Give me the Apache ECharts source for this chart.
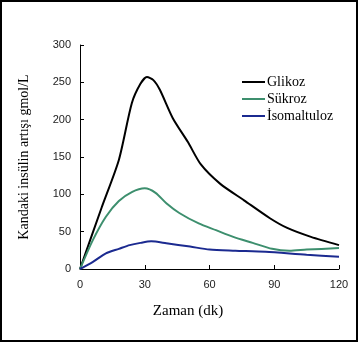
<!DOCTYPE html>
<html><head><meta charset="utf-8">
<script src="https://cdn.jsdelivr.net/npm/echarts@6/dist/echarts.min.js"></script>
<style>html,body{margin:0;padding:0;background:#fff}#c{width:359px;height:344px}</style>
</head><body><div id="c"></div>
<script>
const seriesNames = ['Glikoz', 'Sükroz', 'İsomaltuloz'];
const glikozT = [0, 10, 18, 24, 28, 31, 34, 37, 43, 50, 56, 65, 76, 88, 96, 107, 120];
const glikozV = [0, 82, 146, 222, 248, 257, 253, 240, 202, 170, 140, 114, 92, 68, 55, 43, 32];
const sukrozT = [0, 6, 12, 18, 24, 30, 35, 40, 46, 55, 63, 71, 80, 89, 97, 105, 120];
const sukrozV = [0, 39, 70, 91, 103, 108, 102, 88, 75, 61, 52, 43, 35, 27, 24.5, 26, 28];
const isoT = [0, 6, 12, 18, 23, 28, 33, 40, 51, 60, 72, 86, 105, 120];
const isoV = [0, 9.5, 21, 27, 32, 35, 37, 34.5, 30, 26, 24.5, 23, 19, 16.5];
const xTicks = [0, 30, 60, 90, 120];
const yTicks = [0, 50, 100, 150, 200, 250, 300];
const colors = ['#000000', '#3d8f6e', '#1b2a90'];

const pairs = (t, v) => t.map((x, i) => [x, v[i]]);
const chart = echarts.init(document.getElementById('c'), null, {renderer: 'canvas'});
const serif = 'Liberation Serif';
const sans = 'Liberation Sans';
chart.setOption({
  animation: false,
  backgroundColor: '#fff',
  grid: {left: 80, top: 45, right: 20, bottom: 75},
  legend: {
    orient: 'vertical', left: 237, top: 70,
    itemWidth: 23, itemHeight: 2, itemGap: 3, icon: 'rect',
    data: seriesNames,
    textStyle: {fontFamily: serif, fontSize: 14, color: '#000', lineHeight: 14, padding: [0, 0, 0, -3]}
  },
  xAxis: {
    type: 'value', min: xTicks[0], max: xTicks[xTicks.length - 1], interval: 30,
    name: 'Zaman (dk)', nameLocation: 'middle', nameGap: 35,
    nameTextStyle: {fontFamily: serif, fontSize: 15, color: '#000', padding: [0, 43, 0, 0]},
    axisLine: {lineStyle: {color: '#000', width: 1}},
    axisTick: {inside: true, length: 4, lineStyle: {color: '#000'}},
    axisLabel: {fontFamily: sans, fontSize: 11, color: '#222', margin: 10},
    splitLine: {show: false}
  },
  yAxis: {
    type: 'value', min: yTicks[0], max: yTicks[yTicks.length - 1], interval: 50,
    name: 'Kandaki insülin artışı gmol/L', nameLocation: 'middle', nameGap: 49,
    nameTextStyle: {fontFamily: serif, fontSize: 14, color: '#000'},
    axisLine: {show: true, lineStyle: {color: '#000', width: 1}},
    axisTick: {show: true, inside: true, length: 4, lineStyle: {color: '#000'}},
    axisLabel: {fontFamily: sans, fontSize: 11, color: '#222', margin: 9},
    splitLine: {show: false}
  },
  series: [
    {name: seriesNames[0], type: 'line', data: pairs(glikozT, glikozV), smooth: 0.25, showSymbol: false, lineStyle: {color: colors[0], width: 2}, itemStyle: {color: colors[0]}},
    {name: seriesNames[1], type: 'line', data: pairs(sukrozT, sukrozV), smooth: 0.25, showSymbol: false, lineStyle: {color: colors[1], width: 2}, itemStyle: {color: colors[1]}},
    {name: seriesNames[2], type: 'line', data: pairs(isoT, isoV), smooth: 0.25, showSymbol: false, lineStyle: {color: colors[2], width: 2}, itemStyle: {color: colors[2]}}
  ],
  graphic: [{type: 'rect', shape: {x: 1, y: 1, width: 356, height: 340}, style: {fill: null, stroke: '#000', lineWidth: 2}, silent: true}]
});
</script></body></html>
